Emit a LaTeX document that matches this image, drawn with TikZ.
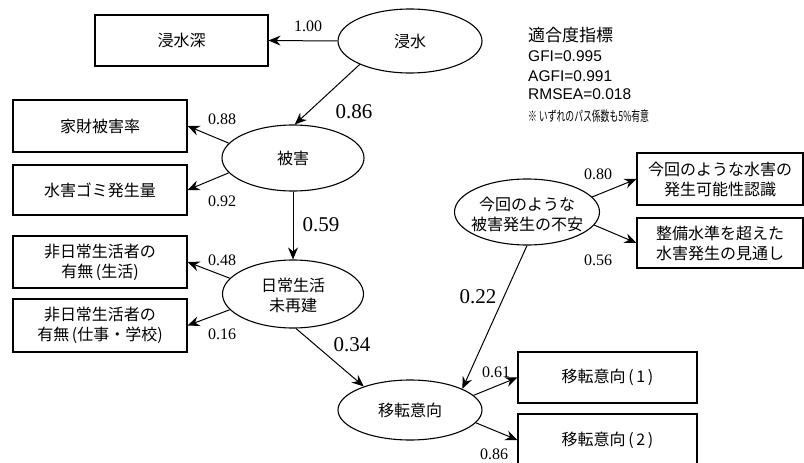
\documentclass[tikz,border=0pt]{standalone}
\usepackage{fontspec}
\setmainfont{Noto Sans CJK JP}
\newfontfamily\numf{Liberation Serif}
\newfontfamily\latf{Liberation Sans}
\usetikzlibrary{shapes.geometric,arrows.meta}
\begin{document}
\begin{tikzpicture}[x=1pt,y=-1pt,
  box/.style={draw, line width=1.1pt, rectangle, inner sep=0pt, align=center,
    font=\fontsize{16}{20}\selectfont},
  lat/.style={draw, ellipse, line width=1.1pt, inner sep=0pt},
  lattext/.style={align=center, inner sep=0pt, font=\fontsize{16}{20}\selectfont},
  arr/.style={-{Stealth[length=12pt,width=10pt,inset=4pt]}, line width=1pt},
  sm/.style={inner sep=0pt, font=\numf\fontsize{16}{16}\selectfont},
  lg/.style={inner sep=0pt, font=\numf\fontsize{21}{21}\selectfont},
  fit/.style={inner sep=0pt, anchor=west}
]
\useasboundingbox (0,0) rectangle (804,463);

% latent variables
\node[lat, minimum width=144pt, minimum height=64pt] (e1) at (410,41) {};
\node[lattext] (t1) at (e1) {浸水};
\node[lat, minimum width=142pt, minimum height=66pt] (e2) at (293,158) {};
\node[lattext] (t2) at (e2) {被害};
\node[lat, minimum width=141pt, minimum height=68pt] (e3) at (293,294) {};
\node[lattext] (t3) at (293,295.5) {日常生活\\未再建};
\node[lat, minimum width=144pt, minimum height=60pt] (e4) at (410,410) {};
\node[lattext] (t4) at (e4) {移転意向};
\node[lat, minimum width=145pt, minimum height=66pt] (e5) at (527,212) {};
\node[lattext] (t5) at (527,214) {今回のような\\被害発生の不安};

% observed variables
\node[box, minimum width=173pt, minimum height=51pt] (b1) at (181.5,40.5) {浸水深};
\node[box, minimum width=174pt, minimum height=52pt] (b2) at (100,126) {家財被害率};
\node[box, minimum width=174pt, minimum height=50pt] (b3) at (100,190) {水害ゴミ発生量};
\node[box, minimum width=174pt, minimum height=52pt] (b4) at (100,262) {非日常生活者の\\有無\,(生活)};
\node[box, minimum width=174pt, minimum height=53pt] (b5) at (100,325.5) {非日常生活者の\\有無\,(仕事・学校)};
\node[box, minimum width=166pt, minimum height=52pt] (b6) at (720,179) {今回のような水害の\\発生可能性認識};
\node[box, minimum width=166pt, minimum height=50pt] (b7) at (720,243) {整備水準を超えた\\水害発生の見通し};
\node[box, minimum width=179pt, minimum height=51pt] (b8) at (607.5,377.5) {移転意向\,(\,1\,)};
\node[box, minimum width=179pt, minimum height=52pt] (b9) at (607.5,440) {移転意向\,(\,2\,)};

% paths
\draw[arr] (e1.west) -- (b1.east);
\draw[arr] (e1.205) -- (e2.87);
\draw[arr] (e2.167) -- (b2.east);
\draw[arr] (e2.193) -- (b3.east);
\draw[arr] (e2.south) -- (e3.north);
\draw[arr] (e3.166) -- (b4.east);
\draw[arr] (e3.194) -- (b5.east);
\draw[arr] (e3.-85) -- (e4.153);
\draw[arr] (e5.south) -- (e4.22);
\draw[arr] (e5.13) -- (b6.west);
\draw[arr] (e5.-11) -- (b7.west);
\draw[arr] (e4.13) -- (b8.west);
\draw[arr] (e4.-11) -- (b9.west);

% coefficients
\node[sm] (l1) at (308,26) {1.00};
\node[lg] (l2) at (354,112) {0.86};
\node[sm] (l3) at (222,119) {0.88};
\node[sm] (l4) at (222,201) {0.92};
\node[lg] (l5) at (321,224.5) {0.59};
\node[sm] (l6) at (222,260) {0.48};
\node[sm] (l7) at (222,334) {0.16};
\node[lg] (l8) at (352,344.5) {0.34};
\node[lg] (l9) at (478,297) {0.22};
\node[sm] (l10) at (598,174) {0.80};
\node[sm] (l11) at (598,260) {0.56};
\node[sm] (l12) at (496,372) {0.61};
\node[sm] (l13) at (494,454) {0.86};

% fit indices
\node[fit, font=\fontsize{17}{17}\selectfont] (f1) at (528,35) {適合度指標};
\node[fit, font=\latf\fontsize{15.5}{15.5}\selectfont] (f2) at (528,56) {GFI=0.995};
\node[fit, font=\latf\fontsize{15.5}{15.5}\selectfont] (f3) at (528,76) {AGFI=0.991};
\node[fit, font=\latf\fontsize{15.5}{15.5}\selectfont] (f4) at (528,94) {RMSEA=0.018};
\node[fit, font=\fontsize{14}{14}\selectfont] (f5) at (528,116) {\scalebox{0.63}[1]{※ いずれのパス係数も5\%有意}};
\end{tikzpicture}
\end{document}
